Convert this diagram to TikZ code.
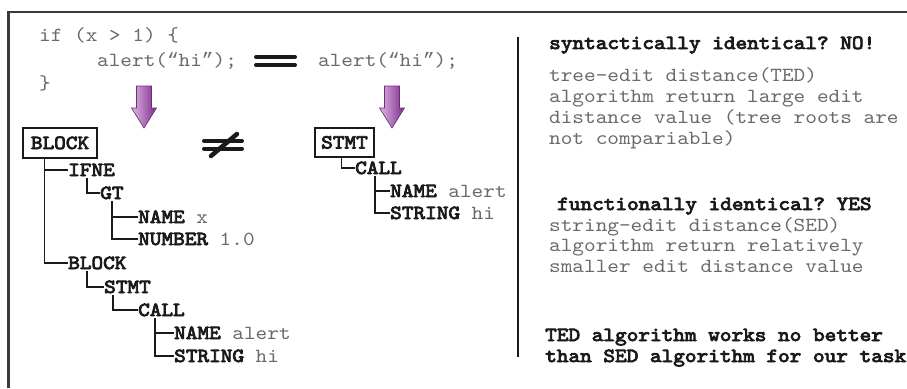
\documentclass[tikz,border=0pt]{standalone}
\usepackage{fontspec}
\newfontfamily\cmono{lmmono10-regular.otf}[BoldFont=lmmono10-regular.otf, BoldFeatures={FakeBold=4}, FakeStretch=1.109]
\newfontfamily\qmono{Liberation Mono}
\usetikzlibrary{calc}

\definecolor{codegray}{HTML}{6A6A6A}
\definecolor{ink}{HTML}{1A1A1A}
\definecolor{framegray}{HTML}{3A3A3A}
\definecolor{arrowlight}{HTML}{DDB8E2}
\definecolor{arrowdark}{HTML}{7C2C8A}
\definecolor{arrowedge}{HTML}{74287F}

\newcommand\cfont{\cmono\fontsize{20pt}{21pt}\selectfont\frenchspacing}
\newcommand\val[1]{{\mdseries\color{codegray}#1}}
% curly quotes taken from a font that draws them slanted
\newcommand\openq{{\qmono\fontsize{19.4pt}{21pt}\selectfont “}}
\newcommand\closeq{{\qmono\fontsize{19.4pt}{21pt}\selectfont ”}}

\tikzset{
  txt/.style={inner sep=0pt, anchor=west, text height=12pt, text depth=0pt, font=\cfont},
  code/.style={txt, text=codegray},
  bold/.style={txt, text=ink, font=\cfont\bfseries},
  rootbox/.style={bold, anchor=center, draw=ink, line width=1.2pt, inner sep=0pt},
  tree/.style={draw=ink, line width=1.3pt},
  frame/.style={draw=framegray, line width=2.4pt},
  glyph/.style={draw=ink, line width=4pt, line cap=round},
  blockarrow/.style={left color=arrowlight, right color=arrowdark, draw=arrowedge, line width=0.6pt, line join=miter}
}

\begin{document}
\begin{tikzpicture}[x=1pt, y=-1pt]
\useasboundingbox (0,0) rectangle (907,388);
\fill[white] (0,0) rectangle (907,388);

% outer frame (top and left edges)
\draw[frame] (8.5,388) -- (8.5,12) -- (907,12);

% source code
\node[code] (ifline) at (39,35) {if (x > 1) \{};
\node[code] (alertA) at (97,60) {alert(\openq hi\closeq);};
\node[code] (closebr) at (39,83) {\}};
\node[code] (alertB) at (318,60) {alert(\openq hi\closeq);};

% equivalence sign between the two statements
\draw[glyph] (256,57) -- (295,57);
\draw[glyph] (256,65) -- (295,65);

% parse arrows
\foreach \cx in {144,392}{
  \path[blockarrow] (\cx-7.5,86) -- (\cx+7.5,86) -- (\cx+7.5,108) -- (\cx+12.5,108)
    -- (\cx,128) -- (\cx-12.5,108) -- (\cx-7.5,108) -- cycle;
}

% not-equal sign between the two trees
\draw[glyph] (204,141) -- (242,141);
\draw[glyph] (204,148.5) -- (242,148.5);
\draw[glyph, line width=4.5pt] (237,134) -- (211,156);

% left AST
\node[rootbox, minimum width=74pt, minimum height=30pt] (rootL) at (60,143) {BLOCK};
\node[bold] (ifne)   at (68,170) {IFNE};
\node[bold] (gt)     at (100,193) {GT};
\node[bold] (namex)  at (138,217) {NAME \val{x}};
\node[bold] (numb)   at (138,239) {NUMBER \val{1.0}};
\node[bold] (blockB) at (68,263) {BLOCK};
\node[bold] (stmtL)  at (104,287) {STMT};
\node[bold] (callL)  at (138,310) {CALL};
\node[bold] (nameL)  at (174,333) {NAME \val{alert}};
\node[bold] (strL)   at (174,356) {STRING \val{hi}};

\draw[tree] ([xshift=22pt]rootL.south west) |- (blockB.west);
\draw[tree] ([xshift=22pt]rootL.south west) |- (ifne.west);
\draw[tree] ([shift={(19pt,-2pt)}]ifne.south west) |- (gt.west);
\draw[tree] ([shift={(12pt,-2pt)}]gt.south west) |- (numb.west);
\draw[tree] ([shift={(12pt,-2pt)}]gt.south west) |- (namex.west);
\draw[tree] ([shift={(19pt,-2pt)}]blockB.south west) |- (stmtL.west);
\draw[tree] ([shift={(9pt,-2pt)}]stmtL.south west) |- (callL.west);
\draw[tree] ([shift={(17pt,-2pt)}]callL.south west) |- (strL.west);
\draw[tree] ([shift={(17pt,-2pt)}]callL.south west) |- (nameL.west);

% right AST
\node[rootbox, minimum width=59pt, minimum height=29pt] (rootR) at (344.5,142.5) {STMT};
\node[bold] (callR) at (355,168) {CALL};
\node[bold] (nameR) at (390,191) {NAME \val{alert}};
\node[bold] (strR)  at (390,213) {STRING \val{hi}};

\draw[tree] ([xshift=27pt]rootR.south west) |- (callR.west);
\draw[tree] ([shift={(20pt,-2pt)}]callR.south west) |- (strR.west);
\draw[tree] ([shift={(20pt,-2pt)}]callR.south west) |- (nameR.west);

% separator
\draw[tree] (518,37) -- (518,357);

% commentary
\node[bold] (q1) at (549,43) {syntactically identical? NO!};
\node[code] (t1) at (549,75)  {tree-edit distance(TED)};
\node[code] (t2) at (549,96)  {algorithm return large edit};
\node[code] (t3) at (549,117) {distance value (tree roots are};
\node[code] (t4) at (549,138) {not compariable)};

\node[bold] (q2) at (557,204) {functionally identical? YES};
\node[code] (s1) at (549,225) {string-edit distance(SED)};
\node[code] (s2) at (549,245.5) {algorithm return relatively};
\node[code] (s3) at (549,266) {smaller edit distance value};

\node[bold] (c1) at (545,335) {TED algorithm works no better};
\node[bold] (c2) at (545,356) {than SED algorithm for our task};
\end{tikzpicture}
\end{document}
